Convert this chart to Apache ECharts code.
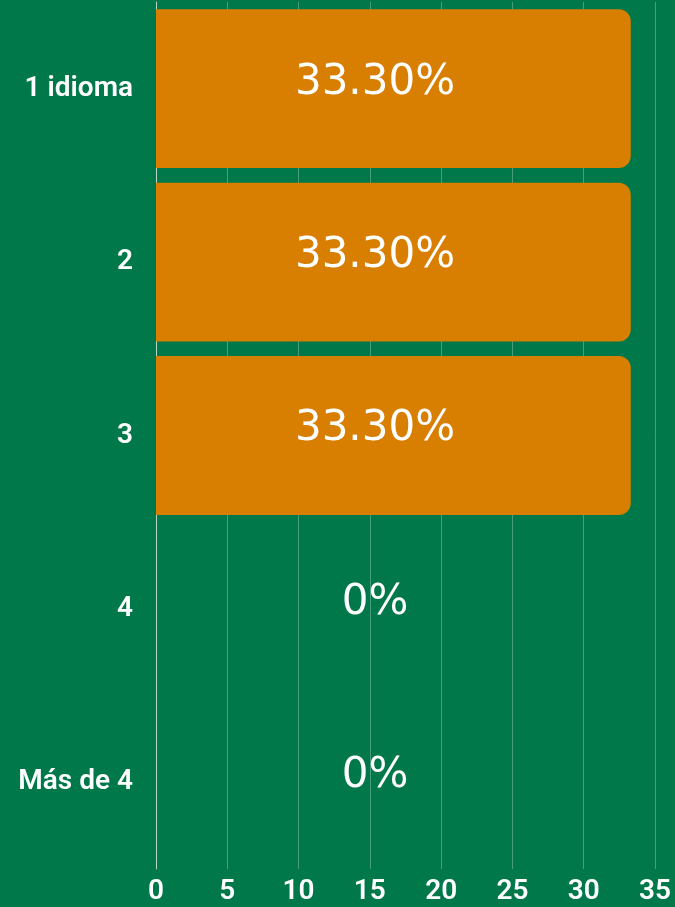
<!DOCTYPE html>
<html>
<head>
<meta charset="utf-8">
<script src="https://cdn.jsdelivr.net/npm/echarts@6/dist/echarts.min.js"></script>
<style>
  html, body { margin: 0; padding: 0; background: #00784A; }
  #chart { width: 675px; height: 907px; }
</style>
</head>
<body>
<div id="chart"></div>
<script>
  const categories = ['1 idioma', '2', '3', '4', 'Más de 4']
  const values = [33.3, 33.3, 33.3, 0, 0]
  const valueLabels = ['33.30%', '33.30%', '33.30%', '0%', '0%']
  const xTicks = { min: 0, max: 35, interval: 5 }

  const chart = echarts.init(document.getElementById('chart'))

  const option = {
    backgroundColor: '#00784A',
    grid: { left: 156, right: 20, top: 2, bottom: 38 },
    xAxis: {
      type: 'value',
      min: xTicks.min,
      max: xTicks.max,
      interval: xTicks.interval,
      axisLine: { show: false },
      axisTick: { show: false },
      axisLabel: {
        color: '#FFFFFF',
        fontFamily: 'Roboto',
        fontWeight: 600,
        fontSize: 28,
        margin: 9,
      },
      splitLine: { lineStyle: { color: 'rgba(255,255,255,0.28)', width: 1 } },
    },
    yAxis: {
      type: 'category',
      inverse: true,
      data: categories,
      axisLine: { show: true, lineStyle: { color: 'rgba(255,255,255,0.6)' } },
      axisTick: { show: false },
      axisLabel: {
        color: '#FFFFFF',
        fontFamily: 'Roboto',
        fontWeight: 600,
        fontSize: 28,
        margin: 23,
      },
    },
    series: [
      {
        type: 'bar',
        data: values,
        barCategoryGap: '8.4%',
        itemStyle: { color: '#D87E00', borderRadius: [0, 12, 12, 0] },
        label: {
          show: true,
          position: [219, '50%'],
          offset: [0, -6],
          align: 'center',
          verticalAlign: 'middle',
          color: '#FFFFFF',
          fontFamily: 'DejaVu Sans',
          fontWeight: 'normal',
          fontSize: 42,
          formatter: (p) => valueLabels[p.dataIndex],
        },
      },
    ],
  }

  chart.setOption(option)
</script>
</body>
</html>
